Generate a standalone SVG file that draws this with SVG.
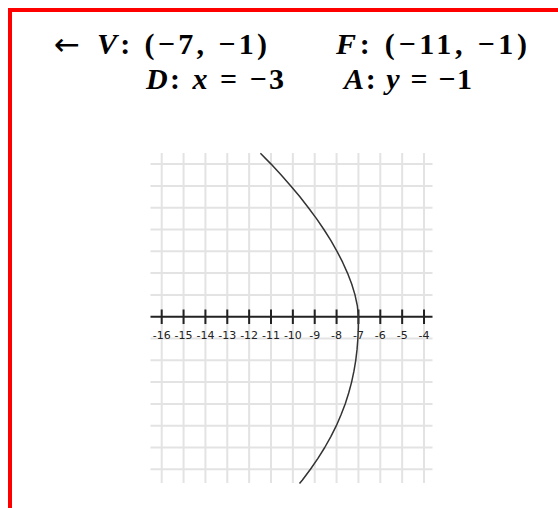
<svg xmlns="http://www.w3.org/2000/svg" width="558" height="508" viewBox="0 0 558 508">
<style>
.m{font-family:"Liberation Serif","DejaVu Serif",serif;font-weight:bold;font-size:30px;fill:#000}
.i{font-style:italic}
.g{stroke:#e3e3e3;stroke-width:2;fill:none}
.ax{stroke:#222;stroke-width:2;fill:none}
.lb{font-family:"DejaVu Sans",sans-serif;font-size:11px;fill:#222;text-anchor:middle}
</style>
<rect width="558" height="508" fill="#fff"/>
<path d="M10,508 V10 H558" fill="none" stroke="#ff0000" stroke-width="4"/>
<g id="header">
<text x="54" y="55" font-family="DejaVu Sans,sans-serif" font-size="31" fill="#000">←</text>
<text class="m" x="97" y="54" textLength="170" lengthAdjust="spacing"><tspan class="i">V</tspan>: (−7, −1)</text>
<text class="m" x="336" y="54" textLength="191" lengthAdjust="spacing"><tspan class="i">F</tspan>: (−11, −1)</text>
<text class="m" x="146" y="89" textLength="138" lengthAdjust="spacing"><tspan class="i">D</tspan>: <tspan class="i">x</tspan> = −3</text>
<text class="m" x="344" y="89" textLength="128" lengthAdjust="spacing"><tspan class="i">A</tspan>: <tspan class="i">y</tspan> = −1</text>
</g>
<g id="grid">
<path class="g" d="M161.7,153V483 M183.56,153V483 M205.42,153V483 M227.28,153V483 M249.14,153V483 M271,153V483 M292.86,153V483 M314.72,153V483 M336.58,153V483 M358.44,153V483 M380.3,153V483 M402.16,153V483 M424.02,153V483"/>
<path class="g" d="M150.5,164.1H432.5 M150.5,185.9H432.5 M150.5,207.7H432.5 M150.5,229.5H432.5 M150.5,251.3H432.5 M150.5,273.1H432.5 M150.5,294.9H432.5 M150.5,338.5H432.5 M150.5,360.3H432.5 M150.5,382.1H432.5 M150.5,403.9H432.5 M150.5,425.7H432.5 M150.5,447.5H432.5 M150.5,469.3H432.5"/>
</g>
<g id="axis">
<path class="ax" d="M150.5,316.7H432.5"/>
<path class="ax" d="M161.7,309.5V324 M183.56,309.5V324 M205.42,309.5V324 M227.28,309.5V324 M249.14,309.5V324 M271,309.5V324 M292.86,309.5V324 M314.72,309.5V324 M336.58,309.5V324 M358.44,309.5V324 M380.3,309.5V324 M402.16,309.5V324 M424.02,309.5V324"/>
<text class="lb" x="161.7" y="339">-16</text>
<text class="lb" x="183.56" y="339">-15</text>
<text class="lb" x="205.42" y="339">-14</text>
<text class="lb" x="227.28" y="339">-13</text>
<text class="lb" x="249.14" y="339">-12</text>
<text class="lb" x="271" y="339">-11</text>
<text class="lb" x="292.86" y="339">-10</text>
<text class="lb" x="314.72" y="339">-9</text>
<text class="lb" x="336.58" y="339">-8</text>
<text class="lb" x="358.44" y="339">-7</text>
<text class="lb" x="380.3" y="339">-6</text>
<text class="lb" x="402.16" y="339">-5</text>
<text class="lb" x="424.02" y="339">-4</text>
</g>
<g id="parabola">
<polyline fill="none" stroke="#333" stroke-width="1.5" stroke-linejoin="round" points="260.4,153.2 271.1,164.1 281.2,175.0 290.8,185.9 299.9,196.8 308.4,207.7 316.5,218.6 323.9,229.5 330.8,240.4 337.0,251.3 342.6,262.2 347.5,273.1 351.7,284.0 355.0,294.9 357.35,305.8 358.44,316.7 358.33,327.6 357.9,338.5 357.05,349.4 355.75,360.3 353.94,371.2 351.6,382.1 348.69,393.0 345.19,403.9 341.04,414.8 336.34,425.7 330.84,436.6 324.74,447.5 317.94,458.4 310.44,469.3 302.24,480.2 299.5,483.5"/>
</g>
</svg>
